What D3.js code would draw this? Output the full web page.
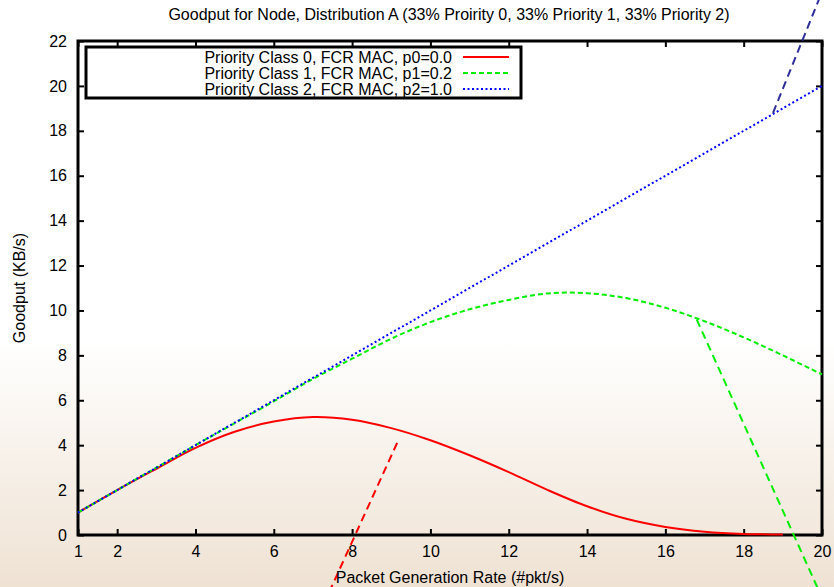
<!DOCTYPE html>
<html lang="en">
<head>
  <meta charset="UTF-8">
  <title>Goodput for Node</title>
  <style>
    body { margin: 0; }
    svg { display: block; }
    text { font-family: "Liberation Sans", Arial, sans-serif; fill: #000; }
  </style>
</head>
<body>
  <svg width="834" height="587"></svg>
  <script src="https://d3js.org/d3.v7.min.js"></script>
  <script>
    // 数据：横坐标与三条曲线
    const rates = [1, 2, 3, 4, 5, 6, 7, 8, 9, 10, 11, 12, 13, 14, 15, 16, 17, 18, 19, 20];
    const class0 = [1, 2, 2.95, 3.88, 4.6, 5.05, 5.25, 5.13, 4.76, 4.22, 3.55, 2.8, 2.0, 1.28, 0.72, 0.36, 0.15, 0.05, 0.02, null];
    const class1 = [1, 2, 3, 4, 4.98, 5.95, 6.95, 7.85, 8.74, 9.48, 10.05, 10.47, 10.76, 10.77, 10.55, 10.12, 9.52, 8.8, 8.0, 7.15];
    const class2 = [1, 2, 3, 4, 5, 6, 7, 8, 9, 10, 11, 12, 13, 14, 15, 16, 17, 18, 19, 20];
    const seriesNames = [
      "Priority Class 0, FCR MAC, p0=0.0",
      "Priority Class 1, FCR MAC, p1=0.2",
      "Priority Class 2, FCR MAC, p2=1.0"
    ];
    // 切线（虚线，超出绘图区）
    const tangent0 = [[9.15, 4.1], [7.4, -2.6]];
    const tangent1 = [[16.8, 9.6], [19.95, -2.6]];
    const tangent2 = [[18.75, 18.8], [20.05, 24.4]];
    const xTicks = [1, 2, 4, 6, 8, 10, 12, 14, 16, 18, 20];
    const yTicks = [0, 2, 4, 6, 8, 10, 12, 14, 16, 18, 20, 22];

    const width = 834, height = 587;
    const margin = { left: 78, right: 12, top: 41, bottom: 52 };
    const fontSize = "16px";
    const svg = d3.select("svg");

    // 背景渐变
    const grad = svg.append("defs").append("linearGradient")
      .attr("id", "bg").attr("x1", 0).attr("y1", 0).attr("x2", 0).attr("y2", 1);
    grad.append("stop").attr("offset", "0%").attr("stop-color", "#ffffff");
    grad.append("stop").attr("offset", "58%").attr("stop-color", "#ffffff");
    grad.append("stop").attr("offset", "100%").attr("stop-color", "#efe2d3");
    svg.append("rect").attr("width", width).attr("height", height).attr("fill", "url(#bg)");

    const x = d3.scaleLinear().domain([1, 20]).range([margin.left, width - margin.right]);
    const y = d3.scaleLinear().domain([0, 22]).range([height - margin.bottom, margin.top]);

    const axisFont = g => g.selectAll("text").style("font-size", fontSize).attr("fill", "#000");
    const tickStyle = g => {
      g.select(".domain").remove();
      g.selectAll("line").attr("stroke", "#000").attr("stroke-width", 2);
    };

    svg.append("g")
      .attr("transform", `translate(0,${y(0)})`)
      .call(d3.axisBottom(x).tickValues(xTicks).tickSize(-6).tickPadding(11).tickFormat(d3.format("d")))
      .call(tickStyle).call(axisFont);
    svg.append("g")
      .attr("transform", `translate(0,${y(22)})`)
      .call(d3.axisTop(x).tickValues(xTicks).tickSize(-6).tickFormat(""))
      .call(tickStyle);
    svg.append("g")
      .attr("transform", `translate(${x(1)},0)`)
      .call(d3.axisLeft(y).tickValues(yTicks).tickSize(-6).tickPadding(11).tickFormat(d3.format("d")))
      .call(tickStyle).call(axisFont);
    svg.append("g")
      .attr("transform", `translate(${x(20)},0)`)
      .call(d3.axisRight(y).tickValues(yTicks).tickSize(-6).tickFormat(""))
      .call(tickStyle);

    // 边框
    svg.append("rect")
      .attr("x", x(1)).attr("y", y(22))
      .attr("width", x(20) - x(1)).attr("height", y(0) - y(22))
      .attr("fill", "none").attr("stroke", "#000").attr("stroke-width", 3);

    // 曲线
    const line = d3.line()
      .defined(d => d[1] !== null)
      .x(d => x(d[0])).y(d => y(d[1]))
      .curve(d3.curveCatmullRom);
    const styles = [
      { color: "#ff0000", dash: null, width: 2 },
      { color: "#00ee00", dash: "5,3", width: 2 },
      { color: "#0000ff", dash: "2,2.5", width: 2 }
    ];
    [class0, class1, class2].forEach((vals, i) => {
      svg.append("path")
        .datum(rates.map((r, j) => [r, vals[j]]))
        .attr("d", line)
        .attr("fill", "none")
        .attr("stroke", styles[i].color)
        .attr("stroke-width", styles[i].width)
        .attr("stroke-dasharray", styles[i].dash);
    });

    const straight = d3.line().x(d => x(d[0])).y(d => y(d[1]));
    [[tangent0, "#ff0000"], [tangent1, "#00ee00"], [tangent2, "#2e2e99"]].forEach(([t, c]) => {
      svg.append("path")
        .attr("d", straight(t))
        .attr("fill", "none")
        .attr("stroke", c)
        .attr("stroke-width", 2)
        .attr("stroke-dasharray", "8,5");
    });

    // 图例
    svg.append("rect")
      .attr("x", 86).attr("y", 47).attr("width", 435).attr("height", 51)
      .attr("fill", "none").attr("stroke", "#000").attr("stroke-width", 3);
    seriesNames.forEach((name, i) => {
      const ly = 57 + i * 16;
      svg.append("text")
        .attr("x", 452).attr("y", ly + 5.5)
        .attr("text-anchor", "end")
        .style("font-size", fontSize)
        .text(name);
      svg.append("line")
        .attr("x1", 463).attr("x2", 509).attr("y1", ly).attr("y2", ly)
        .attr("stroke", styles[i].color)
        .attr("stroke-width", 2)
        .attr("stroke-dasharray", styles[i].dash);
    });

    // 标题与坐标轴标签
    svg.append("text")
      .attr("x", 449).attr("y", 20)
      .attr("text-anchor", "middle")
      .style("font-size", fontSize)
      .text("Goodput for Node, Distribution A (33% Proirity 0, 33% Priority 1, 33% Priority 2)");
    svg.append("text")
      .attr("x", 450).attr("y", 583)
      .attr("text-anchor", "middle")
      .style("font-size", fontSize)
      .text("Packet Generation Rate (#pkt/s)");
    svg.append("text")
      .attr("transform", `translate(25,${(y(0) + y(22)) / 2}) rotate(-90)`)
      .attr("text-anchor", "middle")
      .style("font-size", fontSize)
      .text("Goodput (KB/s)");
  </script>
</body>
</html>
